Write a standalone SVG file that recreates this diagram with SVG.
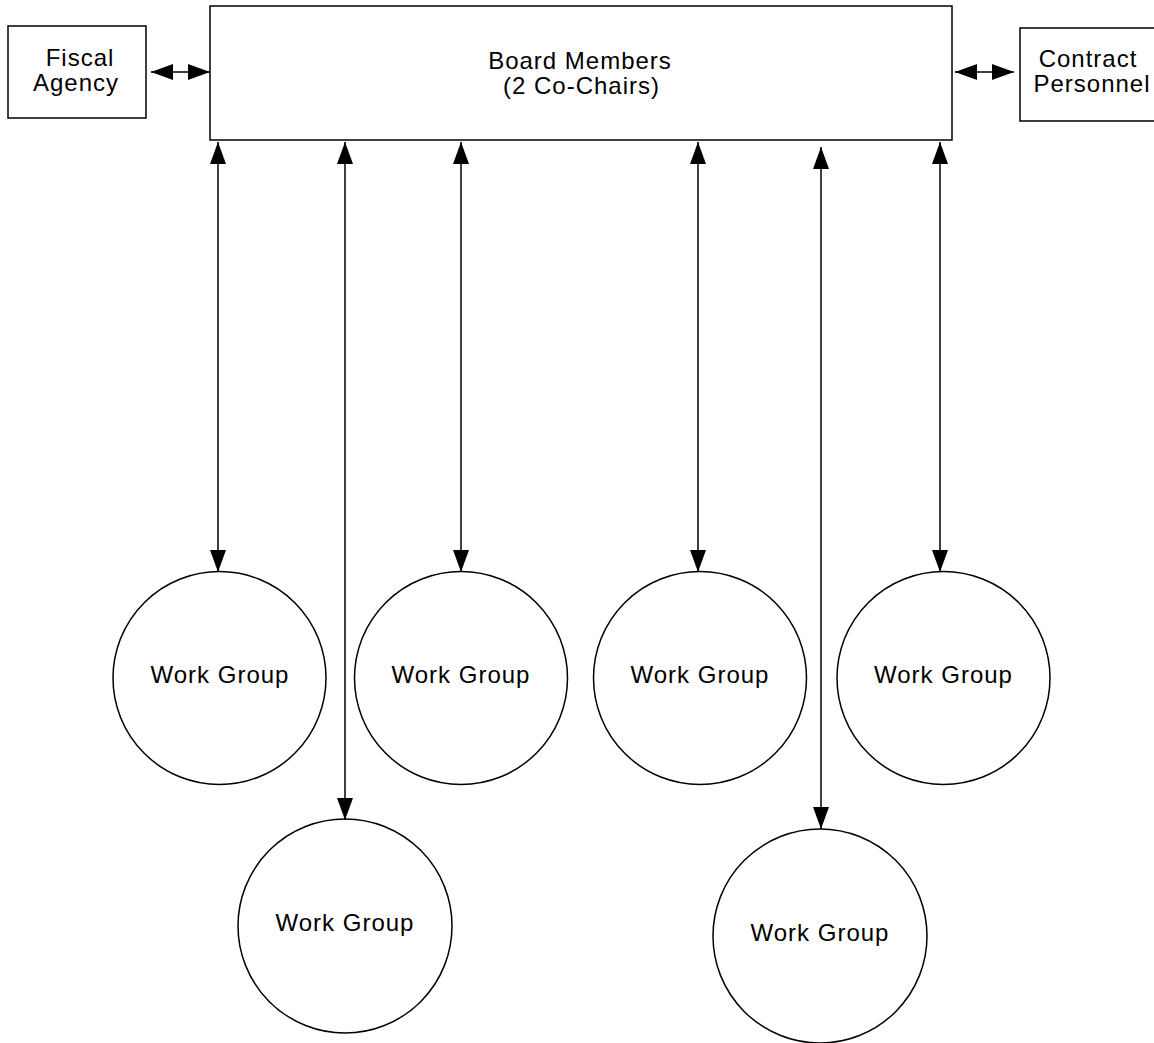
<svg xmlns="http://www.w3.org/2000/svg" width="1154" height="1043" viewBox="0 0 1154 1043">
<style>
.box{fill:#fff;stroke:#000;stroke-width:1.5}
.c{fill:#fff;stroke:#000;stroke-width:1.5}
.t{font-family:"Liberation Sans",Arial,sans-serif;font-size:24px;letter-spacing:1px;fill:#000;text-anchor:middle}
.l{stroke:#000;stroke-width:1.5;fill:none;marker-start:url(#a);marker-end:url(#a)}
</style>
<defs>
<marker id="a" viewBox="0 0 22 16" refX="22" refY="8" markerWidth="22" markerHeight="16" markerUnits="userSpaceOnUse" orient="auto-start-reverse">
<path d="M0,0 L22,8 L0,16 Z" fill="#000"/>
</marker>
</defs>
<g id="board"><rect class="box" x="210" y="6" width="742" height="134"/><text class="t" x="580" y="69">Board Members</text><text class="t" x="581.5" y="94">(2 Co-Chairs)</text></g>
<g id="fiscal"><rect class="box" x="8" y="26" width="138" height="92"/><text class="t" x="80" y="66">Fiscal</text><text class="t" x="76" y="91">Agency</text></g>
<g id="contract"><rect class="box" x="1020" y="28" width="140" height="93"/><text class="t" x="1088" y="67">Contract</text><text class="t" x="1092" y="92">Personnel</text></g>
<g id="wg1"><circle class="c" cx="219.5" cy="678" r="106.5"/><text class="t" x="220" y="683">Work Group</text></g>
<g id="wg2"><circle class="c" cx="345" cy="926" r="107"/><text class="t" x="345" y="931">Work Group</text></g>
<g id="wg3"><circle class="c" cx="461" cy="678" r="106.5"/><text class="t" x="461" y="683">Work Group</text></g>
<g id="wg4"><circle class="c" cx="700" cy="678" r="106.5"/><text class="t" x="700" y="683">Work Group</text></g>
<g id="wg5"><circle class="c" cx="820" cy="936" r="107"/><text class="t" x="820" y="941">Work Group</text></g>
<g id="wg6"><circle class="c" cx="943.5" cy="678" r="106.5"/><text class="t" x="943.5" y="683">Work Group</text></g>
<g id="connectors">
<line class="l" x1="151" y1="72" x2="210" y2="72"/>
<line class="l" x1="955" y1="72" x2="1014" y2="72"/>
<line class="l" x1="218" y1="142" x2="218" y2="572"/>
<line class="l" x1="345" y1="142" x2="345" y2="820"/>
<line class="l" x1="461" y1="142" x2="461" y2="572"/>
<line class="l" x1="698" y1="142" x2="698" y2="572"/>
<line class="l" x1="821" y1="147" x2="821" y2="829"/>
<line class="l" x1="940" y1="142" x2="940" y2="572"/>
</g>
</svg>
